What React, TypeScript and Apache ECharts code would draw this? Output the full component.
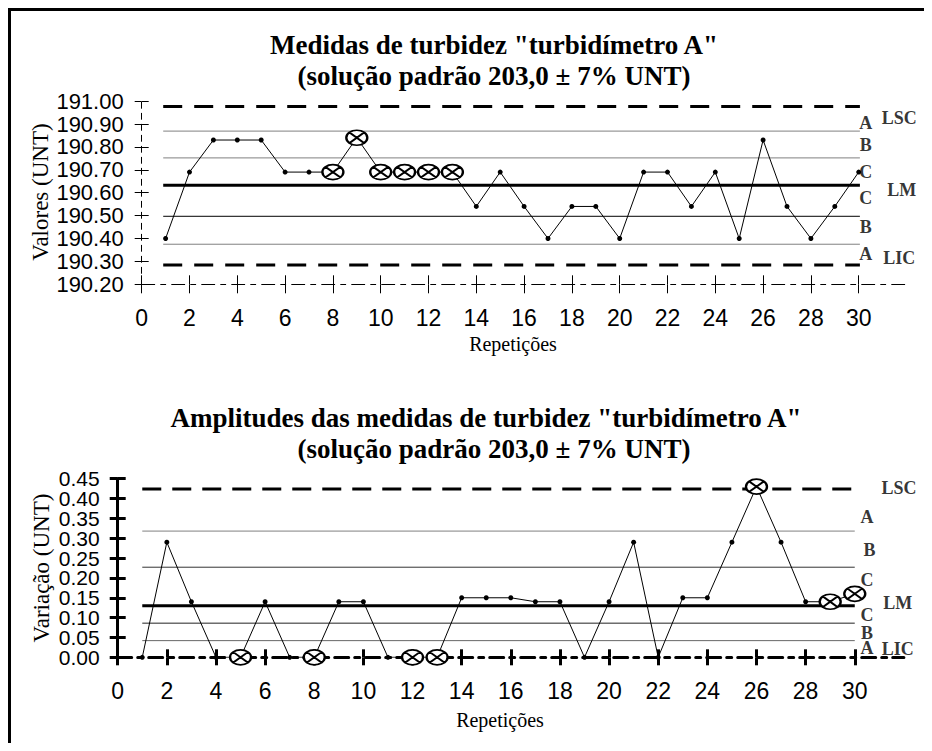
import React, { useEffect, useRef } from "react";
import * as echarts from "echarts";

// ---------- data ----------
const repetitions = [1, 2, 3, 4, 5, 6, 7, 8, 9, 10, 11, 12, 13, 14, 15, 16, 17, 18, 19, 20, 21, 22, 23, 24, 25, 26, 27, 28, 29, 30];
const turbidityValues = [190.40, 190.69, 190.83, 190.83, 190.83, 190.69, 190.69, 190.69, 190.84, 190.69, 190.69, 190.69, 190.69, 190.54, 190.69, 190.54, 190.40, 190.54, 190.54, 190.40, 190.69, 190.69, 190.54, 190.69, 190.40, 190.83, 190.54, 190.40, 190.54, 190.69];
const turbidityMarked = [8, 9, 10, 11, 12, 13];
const amplitudeValues = [0.00, 0.29, 0.14, 0.00, 0.00, 0.14, 0.00, 0.00, 0.14, 0.14, 0.00, 0.00, 0.00, 0.15, 0.15, 0.15, 0.14, 0.14, 0.00, 0.14, 0.29, 0.00, 0.15, 0.15, 0.29, 0.43, 0.29, 0.14, 0.14, 0.16];
const amplitudeMarked = [5, 8, 12, 13, 26, 29, 30];

// control lines: LSC, A, B, LM, B, A, LIC
const topLineValues = [190.976, 190.869, 190.752, 190.632, 190.497, 190.375, 190.284];
const bottomLineValues = [0.424, 0.318, 0.227, 0.130, 0.086, 0.042];
const topLineRange = [0.9, 30.05];
const bottomLineRange = [1.0, 30.0];

const xTickValues = [0, 2, 4, 6, 8, 10, 12, 14, 16, 18, 20, 22, 24, 26, 28, 30];
const bottomYLabelsEven = [0, 0.1, 0.2, 0.3, 0.4];
const bottomYLabelsOdd = [0.05, 0.15, 0.25, 0.35, 0.45];

const zoneLabelTexts = ["LSC", "A", "B", "C", "LM", "C", "B", "A", "LIC"];
const topZoneLabelX = [31.7, 30.3, 30.3, 30.3, 31.8, 30.3, 30.3, 30.3, 31.7];
const topZoneLabelY = [190.926, 190.903, 190.808, 190.69, 190.612, 190.577, 190.45, 190.332, 190.315];
const bottomZoneLabelX = [31.8, 30.5, 30.6, 30.5, 31.75, 30.5, 30.5, 30.5, 31.75];
const bottomZoneLabelY = [0.4265, 0.353, 0.27, 0.195, 0.137, 0.1065, 0.061, 0.0234, 0.021];

const titleTop1 = 'Medidas de turbidez "turbidímetro A"';
const titleTop2 = "(solução padrão 203,0 ± 7% UNT)";
const titleBottom1 = 'Amplitudes das medidas de turbidez "turbidímetro A"';
const titleBottom2 = "(solução padrão 203,0 ± 7% UNT)";
const xName = "Repetições";
const yNameTop = "Valores (UNT)";
const yNameBottom = "Variação (UNT)";

// ---------- styles ----------
const SERIF = "'Liberation Serif', 'Times New Roman', serif";
const SANS = "'Liberation Sans', Arial, sans-serif";
const MARK_SYMBOL =
  "path://M0,10 C0,4.477 6.716,0 15,0 C23.284,0 30,4.477 30,10 C30,15.523 23.284,20 15,20 C6.716,20 0,15.523 0,10 Z M4.4,2.93 L25.6,17.07 M4.4,17.07 L25.6,2.93";

const topLineStyles: any[] = [
  { color: "#000", width: 3, type: [19, 12] },
  { color: "#808080", width: 1 },
  { color: "#808080", width: 1 },
  { color: "#000", width: 3 },
  { color: "#000", width: 1 },
  { color: "#808080", width: 1 },
  { color: "#000", width: 3, type: [19, 12] },
];
const bottomLineStyles: any[] = [
  { color: "#000", width: 3, type: [19, 11] },
  { color: "#808080", width: 1 },
  { color: "#333", width: 1 },
  { color: "#000", width: 3 },
  { color: "#222", width: 1 },
  { color: "#666", width: 1 },
];

function buildPoints(values: number[], marked: number[]) {
  return values.map((v, i) => {
    const x = repetitions[i];
    if (marked.indexOf(x) >= 0) {
      return {
        value: [x, v],
        symbol: MARK_SYMBOL,
        symbolSize: [21, 15],
        itemStyle: { color: "#fff", borderColor: "#000", borderWidth: 2 },
      };
    }
    return { value: [x, v] };
  });
}

function labelCfg(opts: any, custom: number[] | undefined) {
  return {
    show: true,
    showMinLabel: true,
    showMaxLabel: true,
    hideOverlap: false,
    margin: opts.margin,
    fontSize: opts.fontSize,
    fontFamily: SANS,
    color: "#000",
    formatter: opts.formatter,
    ...(custom ? { customValues: custom } : {}),
  };
}

function axisPair(kind: "x" | "y", grid: number, opts: any) {
  const main = {
    type: "value",
    gridIndex: grid,
    position: kind === "x" ? "bottom" : "left",
    min: opts.min,
    max: opts.max,
    interval: opts.interval,
    axisLine: { show: true, onZero: false, lineStyle: opts.lineStyle },
    axisTick: {
      show: true,
      length: opts.tickLen,
      lineStyle: { color: "#000", width: opts.tickWidth },
      ...(opts.custom ? { customValues: opts.custom } : {}),
    },
    axisLabel: labelCfg(opts, opts.labelsMain || opts.custom),
    splitLine: { show: false },
  };
  const dup = {
    type: "value",
    gridIndex: grid,
    position: kind === "x" ? "bottom" : "left",
    min: opts.min,
    max: opts.max,
    interval: opts.interval,
    axisLine: { show: false, onZero: false },
    axisTick: {
      show: true,
      inside: true,
      length: opts.tickLen,
      lineStyle: { color: "#000", width: opts.tickWidth },
      ...(opts.custom ? { customValues: opts.custom } : {}),
    },
    axisLabel: opts.labelsDup ? labelCfg(opts, opts.labelsDup) : { show: false },
    splitLine: { show: false },
  };
  return [main, dup];
}

export default function App() {
  const ref = useRef<HTMLDivElement>(null);

  useEffect(() => {
    if (!ref.current) return;
    const chart = echarts.init(ref.current, undefined, { renderer: "svg" });

    const xTop = axisPair("x", 0, {
      min: 0, max: 32, interval: 2, custom: xTickValues,
      lineStyle: { color: "#000", width: 1, type: [13, 6, 5, 6] },
      tickLen: 9, tickWidth: 1, margin: 22, fontSize: 23,
      formatter: (v: number) => String(v),
    });
    const yTop = axisPair("y", 0, {
      min: 190.2, max: 191.0, interval: 0.1,
      lineStyle: { color: "#000", width: 1, type: [6, 5] },
      tickLen: 7, tickWidth: 1, margin: 18, fontSize: 22,
      formatter: (v: number) => v.toFixed(2),
    });
    const xBot = axisPair("x", 1, {
      min: 0, max: 32, interval: 2, custom: xTickValues,
      lineStyle: { color: "#000", width: 3, type: [14, 6, 5, 6] },
      tickLen: 8, tickWidth: 3, margin: 22, fontSize: 23,
      formatter: (v: number) => String(v),
    });
    const yBot = axisPair("y", 1, {
      min: 0, max: 0.45, interval: 0.05,
      labelsMain: bottomYLabelsEven, labelsDup: bottomYLabelsOdd,
      lineStyle: { color: "#000", width: 3 },
      tickLen: 8, tickWidth: 3, margin: 18, fontSize: 21,
      formatter: (v: number) => v.toFixed(2),
    });

    const series: any[] = [];
    topLineValues.forEach((v, i) => {
      series.push({
        type: "line", xAxisIndex: 0, yAxisIndex: 0, silent: true, symbol: "none",
        data: [[topLineRange[0], v], [topLineRange[1], v]],
        lineStyle: topLineStyles[i], z: 2,
      });
    });
    bottomLineValues.forEach((v, i) => {
      series.push({
        type: "line", xAxisIndex: 2, yAxisIndex: 2, silent: true, symbol: "none",
        data: [[bottomLineRange[0], v], [bottomLineRange[1], v]],
        lineStyle: bottomLineStyles[i], z: 2,
      });
    });
    series.push({
      type: "line", name: "turbidez", xAxisIndex: 0, yAxisIndex: 0,
      data: buildPoints(turbidityValues, turbidityMarked),
      symbol: "circle", symbolSize: 5, showAllSymbol: true,
      itemStyle: { color: "#000" },
      lineStyle: { color: "#000", width: 1 }, z: 5,
    });
    series.push({
      type: "line", name: "amplitude", xAxisIndex: 2, yAxisIndex: 2,
      data: buildPoints(amplitudeValues, amplitudeMarked),
      symbol: "circle", symbolSize: 5, showAllSymbol: true,
      itemStyle: { color: "#000" },
      lineStyle: { color: "#000", width: 1 }, z: 5,
    });
    const zoneLabel = {
      show: true, position: "inside", color: "#000", fontFamily: SERIF,
      fontWeight: "bold", fontSize: 18, formatter: (p: any) => p.name,
    };
    series.push({
      type: "scatter", xAxisIndex: 0, yAxisIndex: 0, silent: true, symbolSize: 1,
      itemStyle: { color: "rgba(0,0,0,0)" }, label: zoneLabel,
      data: zoneLabelTexts.map((t, i) => ({ name: t, value: [topZoneLabelX[i], topZoneLabelY[i]] })),
      z: 6,
    });
    series.push({
      type: "scatter", xAxisIndex: 2, yAxisIndex: 2, silent: true, symbolSize: 1,
      itemStyle: { color: "rgba(0,0,0,0)" }, label: zoneLabel,
      data: zoneLabelTexts.map((t, i) => ({ name: t, value: [bottomZoneLabelX[i], bottomZoneLabelY[i]] })),
      z: 6,
    });

    const titleFont = (size: number) => ({ fontFamily: SERIF, fontWeight: "bold", fontSize: size, fill: "#000" });

    chart.setOption({
      animation: false,
      backgroundColor: "#fff",
      grid: [
        { left: 133.7, top: 93.1, width: 764.8, height: 183.2, outerBoundsMode: "none", containLabel: false },
        { left: 109.7, top: 470.7, width: 786.2, height: 178.6, outerBoundsMode: "none", containLabel: false },
      ],
      xAxis: [...xTop, ...xBot],
      yAxis: [...yTop, ...yBot],
      series,
      graphic: [
        { type: "line", shape: { x1: 0, y1: 1.5, x2: 916, y2: 1.5 }, style: { stroke: "#000", lineWidth: 3 } },
        { type: "line", shape: { x1: 1.5, y1: 0, x2: 1.5, y2: 735 }, style: { stroke: "#000", lineWidth: 3 } },
        { type: "text", x: 486, y: 37, style: { text: titleTop1, align: "center", verticalAlign: "middle", ...titleFont(27) } },
        { type: "text", x: 486, y: 68, style: { text: titleTop2, align: "center", verticalAlign: "middle", ...titleFont(27) } },
        { type: "text", x: 478, y: 410, style: { text: titleBottom1, align: "center", verticalAlign: "middle", ...titleFont(27) } },
        { type: "text", x: 486, y: 441, style: { text: titleBottom2, align: "center", verticalAlign: "middle", ...titleFont(27) } },
        { type: "text", x: 505, y: 336, style: { text: xName, align: "center", verticalAlign: "middle", fontFamily: SERIF, fontSize: 20, fill: "#000" } },
        { type: "text", x: 492, y: 712, style: { text: xName, align: "center", verticalAlign: "middle", fontFamily: SERIF, fontSize: 20, fill: "#000" } },
        { type: "text", x: 32, y: 184, rotation: Math.PI / 2, style: { text: yNameTop, align: "center", verticalAlign: "middle", fontFamily: SERIF, fontSize: 23, fill: "#000" } },
        { type: "text", x: 33, y: 560, rotation: Math.PI / 2, style: { text: yNameBottom, align: "center", verticalAlign: "middle", fontFamily: SERIF, fontSize: 23, fill: "#000" } },
      ],
    });

    return () => chart.dispose();
  }, []);

  return <div ref={ref} style={{ width: 916, height: 735 }} />;
}
